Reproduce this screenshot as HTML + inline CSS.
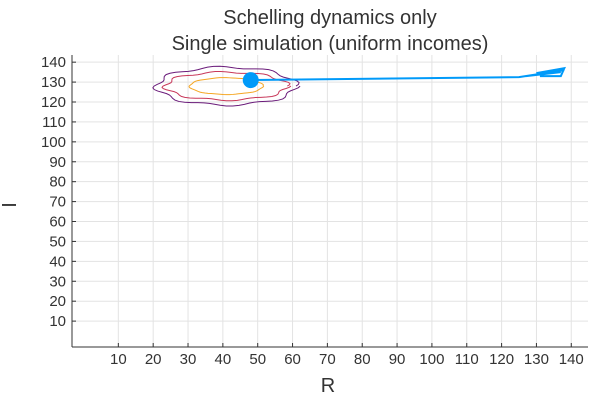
<!DOCTYPE html>
<html><head><meta charset="utf-8"><style>
body{margin:0;background:#fff;}
svg{font-family:"Liberation Sans",sans-serif;}
</style></head><body>
<svg id="c" width="600" height="400">
<text x="330" y="24" font-size="20" text-anchor="middle" fill="#333">Schelling dynamics only</text>
<text x="330" y="50" font-size="20" text-anchor="middle" fill="#333">Single simulation (uniform incomes)</text>
<text x="328" y="392" font-size="20" text-anchor="middle" fill="#333">R</text>
<text x="16" y="205" font-size="20" text-anchor="middle" fill="#333" transform="rotate(-90 16 205)">I</text>
<g id="grid"></g><g id="marks"></g><g id="axes"></g>
</svg>
<script>
const xTicks=[10,20,30,40,50,60,70,80,90,100,110,120,130,140];
const yTicks=[10,20,30,40,50,60,70,80,90,100,110,120,130,140];
const contourCx=[41,41,41];
const contourCy=[128,128,128];
const contourRx=[20,17.5,10.5];
const contourRy=[9.5,7,4.2];
const contourColors=['#6a1b7a','#c8385a','#f5a623'];
const pathR=[48,125,138,127,137,130,138,137,131];
const pathI=[131,132.5,136,133,135,134.5,137,133,133];
const NS='http://www.w3.org/2000/svg';
const L=72,R=588,T=55,B=347;
const X0=-3.3,X1=144.8,Y0=-3,Y1=143.6;
function sx(v){return L+(v-X0)/(X1-X0)*(R-L);}
function sy(v){return B-(v-Y0)/(Y1-Y0)*(B-T);}
function mk(t,a,p){const e=document.createElementNS(NS,t);for(const k in a)e.setAttribute(k,a[k]);p.appendChild(e);return e;}
const g=document.getElementById('grid'),m=document.getElementById('marks'),ax=document.getElementById('axes');
xTicks.forEach(v=>{
 const l=mk('line',{x1:sx(v),x2:sx(v),y1:T,y2:B,stroke:'#e3e3e3','stroke-width':1},g);
 
 
 const t=mk('text',{x:sx(v),y:B+17,'font-size':15,'text-anchor':'middle',fill:'#333'},ax);
 t.textContent=v;
 
 
 mk('line',{x1:sx(v),x2:sx(v),y1:B,y2:B-4,stroke:'#333'},ax);
});
yTicks.forEach(v=>{
 const l=mk('line',{x1:L,x2:R,y1:sy(v),y2:sy(v),stroke:'#e3e3e3','stroke-width':1},g);
 
 
 const t=mk('text',{x:L-6,y:sy(v)+5,'font-size':15,'text-anchor':'end',fill:'#333'},ax);
 t.textContent=v;
 
 
 mk('line',{x1:L,x2:L+4,y1:sy(v),y2:sy(v),stroke:'#333'},ax);
});
const xa=mk('line',{x1:L,x2:R,y1:B,y2:B,stroke:'#333'},ax);


const ya=mk('line',{x1:L,x2:L,y1:T,y2:B,stroke:'#333'},ax);


contourCx.forEach((cx,i)=>{
 const pts=[];
 for(let k=0;k<=72;k++){const a=k/72*2*Math.PI;const w=1+0.06*Math.sin(k*7)*(i<2?1:0.4);
  pts.push(sx(cx+contourRx[i]*w*Math.cos(a))+','+sy(contourCy[i]+contourRy[i]*w*Math.sin(a)));}
 const p=mk('polyline',{points:pts.join(' '),fill:'none',stroke:contourColors[i],'stroke-width':1},m);
 
 
});
const pl=mk('polyline',{points:pathR.map((r,i)=>sx(r)+','+sy(pathI[i])).join(' '),fill:'none',stroke:'#009af9','stroke-width':2},m);


const dot=mk('circle',{cx:sx(pathR[0]),cy:sy(pathI[0]),r:8,fill:'#009af9'},m);


</script>
</body></html>
